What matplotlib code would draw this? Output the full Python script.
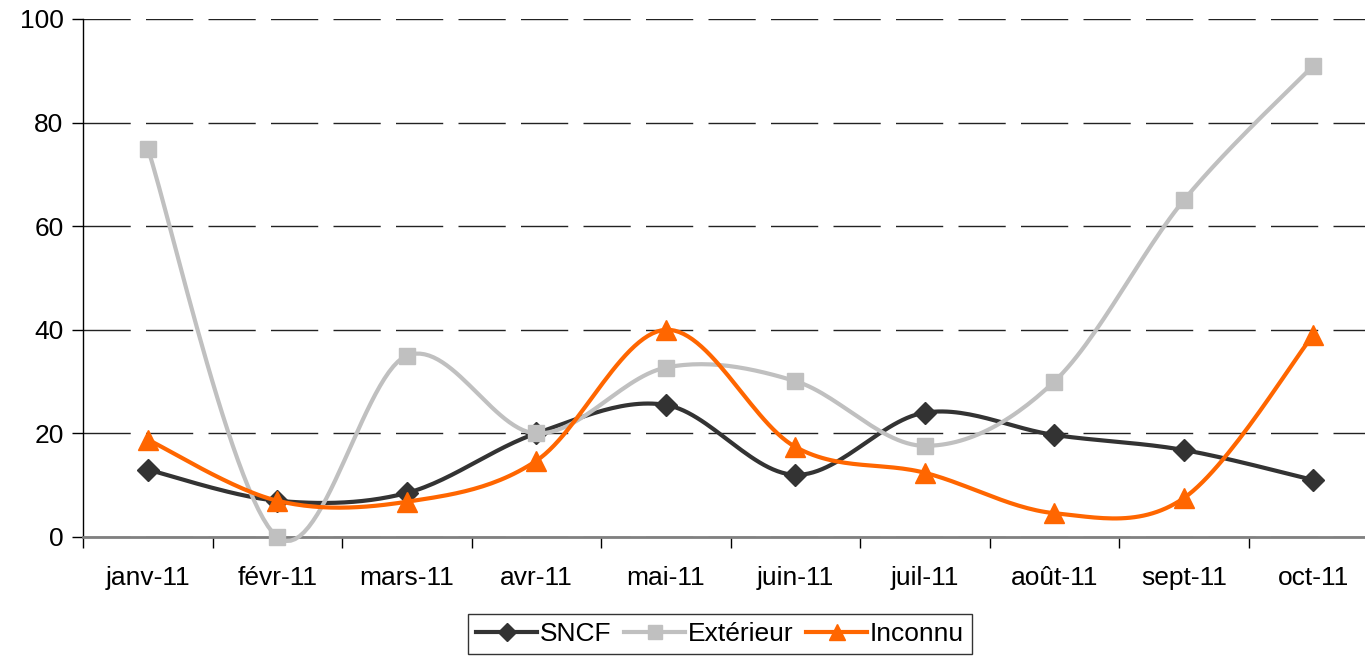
import numpy as np
import matplotlib
matplotlib.use("Agg")
import matplotlib.pyplot as plt
from matplotlib.lines import Line2D

plt.rcParams['font.family'] = ['Liberation Sans', 'DejaVu Sans']

categories = ["janv-11", "févr-11", "mars-11", "avr-11", "mai-11",
              "juin-11", "juil-11", "août-11", "sept-11", "oct-11"]
sncf = [13, 7, 8.5, 20, 25.5, 12, 24, 19.7, 16.8, 11]
exterieur = [75, 0, 35, 20, 32.7, 30.1, 17.6, 30, 65, 91]
inconnu = [18.8, 7, 6.8, 14.7, 40, 17.4, 12.4, 4.6, 7.5, 39]
yticks = [0, 20, 40, 60, 80, 100]

W, H = 1365, 656
fig = plt.figure(figsize=(W / 100, H / 100), dpi=100)
left, right, top, bottom = 83, 1378, 19, 537
ax = fig.add_axes([left / W, (H - bottom) / H, (right - left) / W, (bottom - top) / H])


def smooth(xs, ys, n=30):
    xs = np.asarray(xs, float)
    ys = np.asarray(ys, float)
    P = np.column_stack([xs, ys])
    Pe = np.vstack([P[0], P, P[-1]])
    out = []
    t = np.linspace(0, 1, n)[:, None]
    for i in range(len(P) - 1):
        p0, p1, p2, p3 = Pe[i], Pe[i + 1], Pe[i + 2], Pe[i + 3]
        c1 = p1 + (p2 - p0) / 6
        c2 = p2 - (p3 - p1) / 6
        seg = ((1 - t) ** 3) * p1 + 3 * ((1 - t) ** 2) * t * c1 + 3 * (1 - t) * t ** 2 * c2 + t ** 3 * p2
        out.append(seg if i == 0 else seg[1:])
    S = np.vstack(out)
    return S[:, 0], S[:, 1]


x = np.arange(len(categories))
series = [
    ("SNCF", sncf, "#333333", "D", 11),
    ("Extérieur", exterieur, "#C0C0C0", "s", 12),
    ("Inconnu", inconnu, "#FF6600", "^", 14),
]
handles = []
for i, (name, vals, col, mk, ms) in enumerate(series):
    sx, sy = smooth(x, vals)
    ax.plot(sx, sy, color=col, lw=3, zorder=3 + i, solid_capstyle='round', clip_on=False)
    ax.plot(x, vals, linestyle='none', marker=mk, ms=ms, color=col, mec=col, zorder=3 + i, clip_on=False)
    handles.append(Line2D([], [], color=col, lw=3, marker=mk, ms=ms * 0.85, mec=col))

fs = 19
ax.set_xlim(-0.5, len(categories) - 0.5)
ax.set_ylim(0, 100)
ax.set_yticks(yticks)
ax.set_yticklabels([str(v) for v in yticks])
ax.set_xticks(x)
ax.set_xticklabels(categories)
ax.set_xticks(np.arange(len(categories) + 1) - 0.5, minor=True)
ax.tick_params(axis='x', which='major', length=0, labelsize=fs, pad=21)
ax.tick_params(axis='x', which='minor', length=8, width=1, direction='out', color='black')
ax.tick_params(axis='y', which='major', length=8, width=1, direction='out', labelsize=fs, pad=6)

ax.yaxis.grid(True, color='#222222', lw=1.0, linestyle=(0, (34, 11)))
ax.set_axisbelow(True)
for s in ['top', 'right']:
    ax.spines[s].set_visible(False)
ax.spines['left'].set_color('black')
ax.spines['left'].set_linewidth(1)
ax.spines['bottom'].set_color('#808080')
ax.spines['bottom'].set_linewidth(2)

leg = fig.legend(handles, [s[0] for s in series], loc='upper center',
                 bbox_to_anchor=(720 / W, (H - 614) / H), ncol=3, fontsize=fs,
                 frameon=True, fancybox=False, edgecolor='black', handlelength=2.3,
                 handletextpad=0.1, columnspacing=0.5, borderpad=0.3, borderaxespad=0)
leg.get_frame().set_linewidth(1)

fig.savefig("out.png", dpi=100)
